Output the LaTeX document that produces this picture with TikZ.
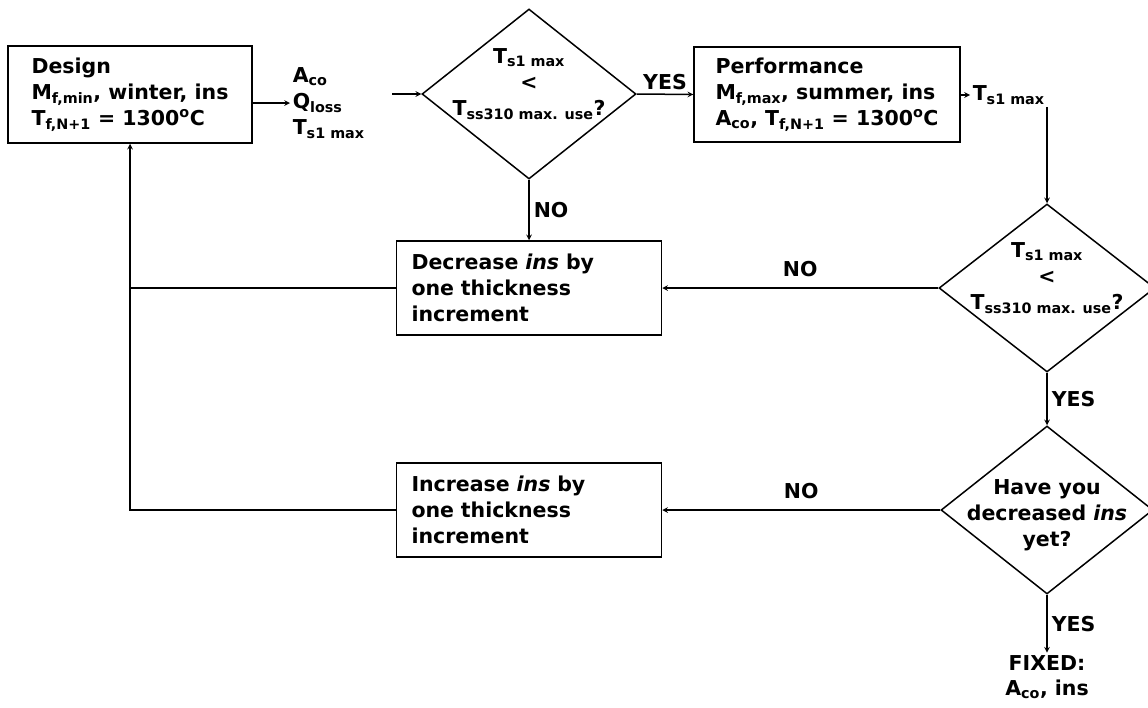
\documentclass[tikz,border=0pt]{standalone}
\usepackage{fontspec}
\setmainfont{DejaVu Sans}
\usetikzlibrary{shapes.geometric}

\newcommand{\lo}[1]{\textsubscript{#1}}

\begin{document}
\begin{tikzpicture}[x=1pt,y=-1pt,>=stealth,line width=1.5pt,
  font=\fontsize{20.5}{26}\selectfont\bfseries,
  block/.style={draw,rectangle,align=left,inner sep=0pt},
  stepbox/.style={draw,rectangle,align=left,text width=235pt,inner xsep=15pt,inner ysep=0pt,minimum height=94pt},
  decision/.style={draw,diamond,inner sep=0pt},
  tag/.style={inner sep=4pt}]
\useasboundingbox (0,0) rectangle (1148,707);

\node[block,minimum width=244pt,minimum height=97pt] (design) at (130,94.5)
  {Design\\M\lo{f,min}, winter, ins\\T\lo{f,N+1} = 1300\textsuperscript{o}C};
\node[align=left,anchor=west,inner sep=2pt] (outs) at (290,103)
  {A\lo{co}\\Q\lo{loss}\\T\lo{s1 max}};
\coordinate (outsend) at (392,94);

\node[decision,minimum width=214pt,minimum height=170pt,
  label={[align=center,yshift=10pt]center:{T\lo{s1 max}\\<\\T\lo{ss310 max. use}?}}] (dia1) at (529,94) {};

\node[block,minimum width=266pt,minimum height=95pt] (perf) at (827,94.5)
  {Performance\\M\lo{f,max}, summer, ins\\A\lo{co}, T\lo{f,N+1} = 1300\textsuperscript{o}C};
\node[anchor=west,inner sep=2pt] (ts1) at (970,95) {T\lo{s1 max}};

\node[decision,minimum width=216pt,minimum height=168pt,
  label={[align=center,yshift=10pt]center:{T\lo{s1 max}\\<\\T\lo{ss310 max. use}?}}] (dia2) at (1047,288) {};
\node[decision,minimum width=212pt,minimum height=168pt,
  label={[align=center,yshift=-5pt]center:{Have you\\decreased \textit{ins}\\yet?}}] (dia3) at (1047,510) {};
\node[align=center,inner sep=2pt,font=\fontsize{20.5}{25}\selectfont\bfseries] (fixed) at (1047,677) {FIXED:\\A\lo{co}, ins};

\node[stepbox] (dec) at (529,288) {Decrease \textit{ins} by\\one thickness\\increment};
\node[stepbox] (inc) at (529,510) {Increase \textit{ins} by\\one thickness\\increment};
\coordinate (corner) at (130,510);

\draw[->] (design.east |- outs.west) -- (outs.west);
\draw[->] (outsend) -- (dia1.west);
\draw[->] (dia1.east) -- node[above,tag] (yes1) {YES} (perf.west);
\draw[->] (perf.east |- ts1.west) -- (ts1.west);
\draw[->] (ts1.south -| dia2.north) -- (dia2.north);
\draw[->] (dia2.south) -- node[right,tag] (yes2) {YES} (dia3.north);
\draw[->] (dia3.south) -- node[right,tag] (yes3) {YES} (fixed.north);
\draw[->] (dia1.south) -- node[right,tag] (no1) {NO} (dec.north);
\draw[->] (dia2.west) -- node[above,tag,yshift=6pt] (no2) {NO} (dec.east);
\draw[->] (dia3.west) -- node[above,tag,yshift=6pt] (no3) {NO} (inc.east);
\draw (dec.west) -- (dec.west -| corner);
\draw[->] (inc.west) -- (corner) -- (design.south);
\end{tikzpicture}
\end{document}
